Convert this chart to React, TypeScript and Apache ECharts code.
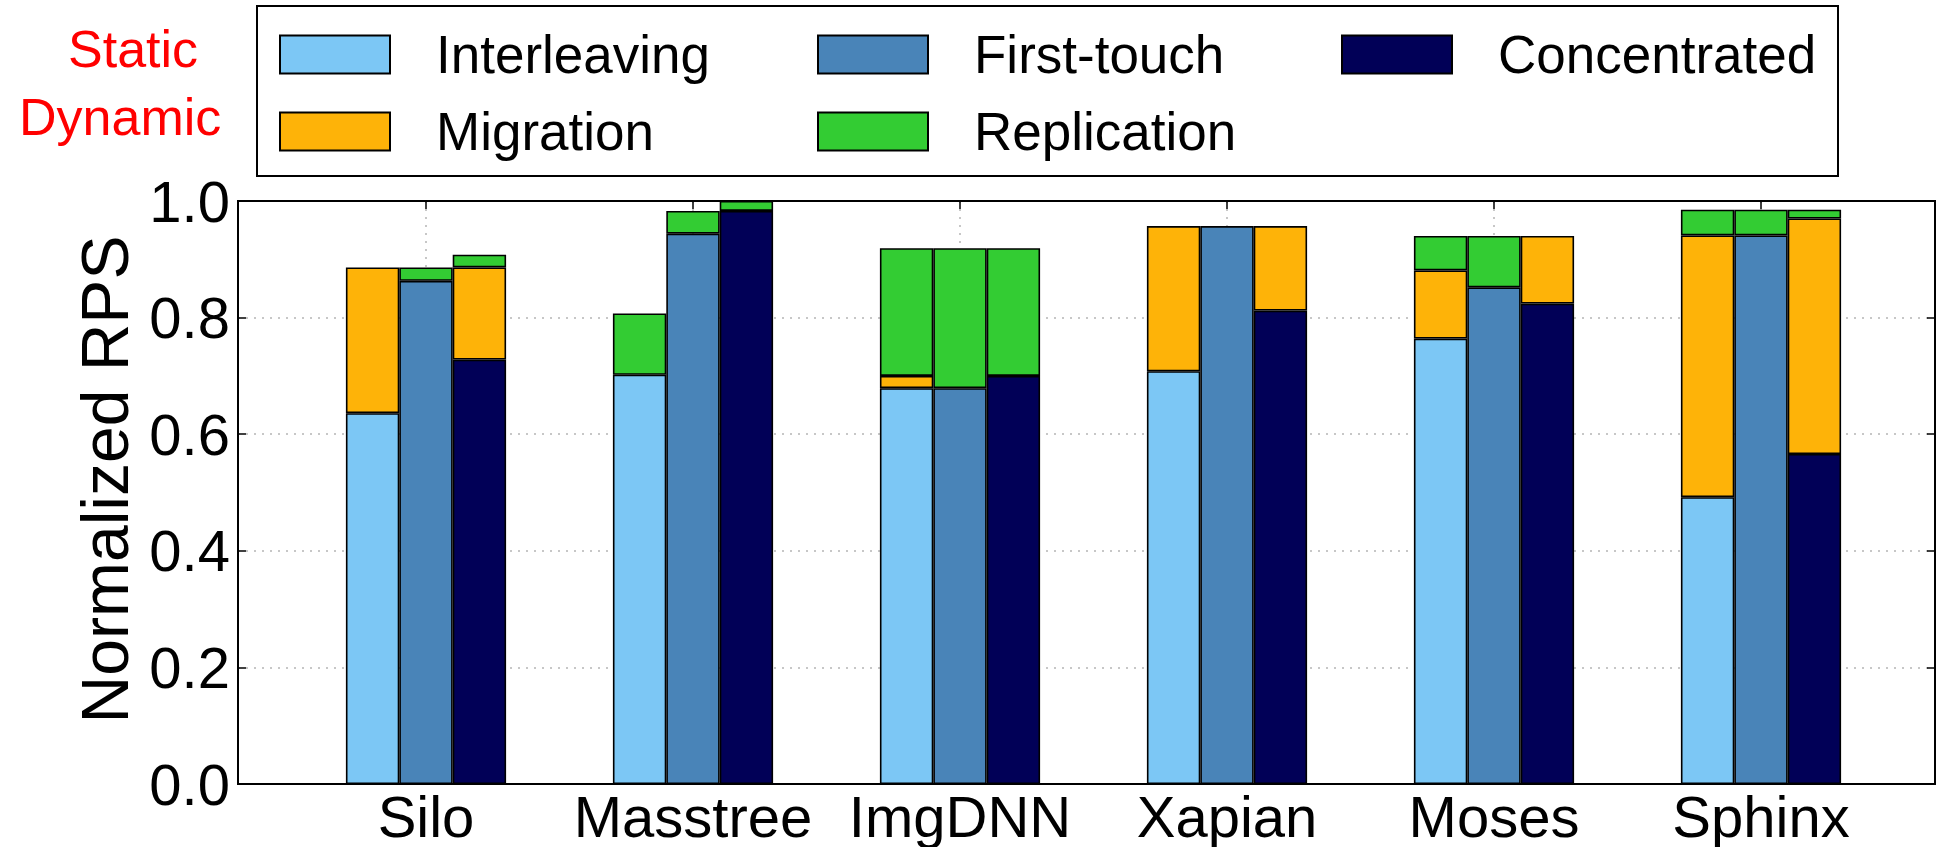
import React, { useEffect, useRef } from "react";
import * as echarts from "echarts";

// ---- data ----
const categories = ["Silo", "Masstree", "ImgDNN", "Xapian", "Moses", "Sphinx"];

// static placements (base of each bar)
const interleaving = [0.636, 0.702, 0.679, 0.708, 0.764, 0.492];
const firstTouch = [0.863, 0.944, 0.679, 0.957, 0.852, 0.941];
const concentrated = [0.728, 0.983, 0.7, 0.812, 0.824, 0.566];

// dynamic gains stacked on top of each static bar
const migrationOnInterleaving = [0.25, null, 0.021, 0.249, 0.117, 0.449];
const migrationOnFirstTouch = [null, null, null, null, null, null];
const migrationOnConcentrated = [0.158, null, null, 0.145, 0.116, 0.404];

const replicationOnInterleaving = [null, 0.105, 0.219, null, 0.059, 0.044];
const replicationOnFirstTouch = [0.023, 0.039, 0.24, null, 0.088, 0.044];
const replicationOnConcentrated = [0.022, 0.017, 0.219, null, null, 0.015];

const yTicks = [0, 0.2, 0.4, 0.6, 0.8, 1.0];

const COLORS = {
  Interleaving: "#7cc7f5",
  "First-touch": "#4984b8",
  Concentrated: "#010057",
  Migration: "#feb308",
  Replication: "#33cc33",
};

const FONT = "Liberation Sans";

export default function App() {
  const ref = useRef<HTMLDivElement>(null);

  useEffect(() => {
    document.body.style.margin = "0";
    document.body.style.overflow = "hidden";
    const chart = echarts.init(ref.current!, null, { renderer: "svg" });

    const barBase = {
      type: "bar",
      xAxisIndex: 1,
      yAxisIndex: 1,
      barWidth: 53.4,
      barGap: "0%",
      clip: false,
      z: 3,
    };
    const mk = (name: string, stack: string, data: (number | null)[]) => ({
      ...barBase,
      name,
      stack,
      data: data.map((v) => (v == null ? "-" : v)),
      itemStyle: {
        color: (COLORS as any)[name],
        borderColor: "#000",
        borderWidth: 1.6,
      },
    });

    const legendItem = (name: string, left: number, top: number) => ({
      data: [name],
      left,
      top,
      padding: 0,
      itemWidth: 110,
      itemHeight: 38,
      icon: "rect",
      selectedMode: false,
      textStyle: {
        fontFamily: FONT,
        fontSize: 53,
        color: "#000",
        padding: [0, 0, 0, 41],
      },
    });

    const option = {
      animation: false,
      backgroundColor: "#fff",
      textStyle: { fontFamily: FONT },
      grid: [
        {
          left: 238,
          top: 201,
          width: 1697,
          height: 583,
          show: true,
          borderColor: "#000",
          borderWidth: 2,
          backgroundColor: "transparent",
          z: 1,
        },
        {
          left: 426,
          top: 201,
          width: 1335,
          height: 583,
          show: false,
        },
      ],
      xAxis: [
        { gridIndex: 0, type: "value", min: 0, max: 1, show: false },
        {
          gridIndex: 1,
          type: "category",
          data: categories,
          boundaryGap: false,
          axisLine: { show: false },
          axisTick: { show: false },
          axisLabel: {
            interval: 0,
            fontFamily: FONT,
            fontSize: 58,
            lineHeight: 54,
            color: "#000",
            margin: 5,
          },
          splitLine: {
            show: true,
            lineStyle: { color: "#b5b5b5", type: [2, 6], width: 1.5 },
          },
        },
        {
          gridIndex: 1,
          type: "category",
          data: categories,
          position: "top",
          boundaryGap: false,
          axisLine: { show: false },
          axisTick: {
            show: true,
            inside: true,
            length: 8,
            interval: 0,
            lineStyle: { color: "#000", width: 1.5 },
          },
          axisLabel: { show: false },
          splitLine: { show: false },
        },
      ],
      yAxis: [
        {
          gridIndex: 0,
          type: "value",
          min: yTicks[0],
          max: yTicks[yTicks.length - 1],
          interval: 0.2,
          name: "Normalized RPS",
          nameLocation: "middle",
          nameGap: 100,
          nameTextStyle: {
            fontFamily: FONT,
            fontSize: 66,
            color: "#000",
            padding: [0, 0, 0, 26],
          },
          axisLine: { show: true, lineStyle: { color: "#000", width: 2 } },
          axisTick: {
            show: true,
            inside: true,
            length: 8,
            lineStyle: { color: "#000", width: 1.5 },
          },
          axisLabel: {
            fontFamily: FONT,
            fontSize: 58,
            color: "#000",
            margin: 8,
            formatter: (v: number) => v.toFixed(1),
          },
          splitLine: {
            show: true,
            lineStyle: { color: "#b5b5b5", type: [2, 6], width: 1.5 },
          },
        },
        {
          gridIndex: 1,
          type: "value",
          min: yTicks[0],
          max: yTicks[yTicks.length - 1],
          show: false,
        },
        {
          gridIndex: 0,
          type: "value",
          position: "right",
          min: yTicks[0],
          max: yTicks[yTicks.length - 1],
          interval: 0.2,
          axisLine: { show: false },
          axisTick: {
            show: true,
            inside: true,
            length: 8,
            lineStyle: { color: "#000", width: 1.5 },
          },
          axisLabel: { show: false },
          splitLine: { show: false },
        },
      ],
      legend: [
        legendItem("Interleaving", 279, 28),
        legendItem("First-touch", 817, 28),
        legendItem("Concentrated", 1341, 28),
        legendItem("Migration", 279, 105),
        legendItem("Replication", 817, 105),
      ],
      graphic: [
        {
          type: "rect",
          shape: { x: 257, y: 6, width: 1581, height: 170 },
          style: { fill: "none", stroke: "#000", lineWidth: 2 },
          z: 0,
        },
        {
          type: "text",
          x: 68,
          y: 49,
          style: {
            text: "Static",
            fontFamily: FONT,
            fontSize: 52,
            fill: "#ff0000",
            verticalAlign: "middle",
            align: "left",
          },
        },
        {
          type: "text",
          x: 19,
          y: 117,
          style: {
            text: "Dynamic",
            fontFamily: FONT,
            fontSize: 52,
            fill: "#ff0000",
            verticalAlign: "middle",
            align: "left",
          },
        },
      ],
      series: [
        mk("Interleaving", "a", interleaving),
        mk("First-touch", "b", firstTouch),
        mk("Concentrated", "c", concentrated),
        mk("Migration", "a", migrationOnInterleaving),
        mk("Migration", "b", migrationOnFirstTouch),
        mk("Migration", "c", migrationOnConcentrated),
        mk("Replication", "a", replicationOnInterleaving),
        mk("Replication", "b", replicationOnFirstTouch),
        mk("Replication", "c", replicationOnConcentrated),
      ],
    };

    chart.setOption(option as any);
    return () => chart.dispose();
  }, []);

  return <div ref={ref} style={{ width: 1937, height: 847 }} />;
}
